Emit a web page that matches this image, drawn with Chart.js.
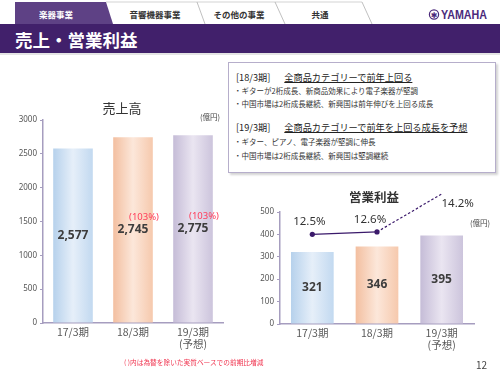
<!DOCTYPE html>
<html>
<head>
<meta charset="utf-8">
<script src="https://cdn.jsdelivr.net/npm/chart.js@4.4.1/dist/chart.umd.min.js"></script>
<style>
  body { margin: 0; width: 500px; height: 375px; background: #fff; position: relative; overflow: hidden;
         font-family: "Noto Sans CJK JP", sans-serif; color: #333; }
  .abs { position: absolute; white-space: nowrap; }
  #note { left: 228px; top: 62px; width: 266px; height: 109px; border: 1px solid #b6aecb;
          box-shadow: 2px 2px 2px #d4d4d4; }
  .hd { font-size: 9.2px; color: #222; }
  .hd u { text-decoration: underline; text-underline-offset: 1px; margin-left: 14px; }
  .bl { font-size: 7.5px; color: #333; }
  #foot { left: 124px; top: 357px; font-size: 6.7px; color: #f0344f; }
  #page { left: 476px; top: 357px; font-size: 10px; color: #444; }
</style>
</head>
<body>

<svg class="abs" style="left:0;top:0" width="500" height="58">
  <polygon points="15,2 106,2 113,24 15,24" fill="#5e4185"/>
  <line x1="106" y1="2" x2="362" y2="2" stroke="#c8c8c8" stroke-width="0.8"/>
  <line x1="197" y1="2" x2="205" y2="24" stroke="#b0b0b0" stroke-width="0.8"/>
  <line x1="275" y1="2" x2="285" y2="24" stroke="#b0b0b0" stroke-width="0.8"/>
  <line x1="362" y1="2" x2="372" y2="24" stroke="#b0b0b0" stroke-width="0.8"/>
  <g font-family="Noto Sans CJK JP" font-size="8.5" font-weight="bold" text-anchor="middle">
    <text x="56" y="18" fill="#fff">楽器事業</text>
    <text x="155" y="18" fill="#333">音響機器事業</text>
    <text x="239" y="18" fill="#333">その他の事業</text>
    <text x="320" y="18" fill="#333">共通</text>
  </g>
  <circle cx="434" cy="14.5" r="4.6" fill="none" stroke="#4b2a7b" stroke-width="1.2"/>
  <text x="434" y="17.5" font-size="8" font-weight="bold" fill="#4b2a7b" text-anchor="middle" font-family="DejaVu Sans">✱</text>
  <text x="441" y="19" font-size="12" font-weight="bold" fill="#4b2a7b" font-family="Liberation Sans Narrow, Liberation Sans"
        textLength="46" lengthAdjust="spacingAndGlyphs">YAMAHA</text>
  <rect x="0" y="24" width="500" height="29" fill="#41206b"/>
  <rect x="0" y="53" width="500" height="2" fill="#e4e4e4"/>
  <text x="15" y="47" font-size="17.5" font-weight="bold" fill="#fff" font-family="Noto Sans CJK JP">売上・営業利益</text>
</svg>

<div id="note" class="abs"></div>
<div class="abs hd" style="left:236px;top:70px">[18/3期]<u>全商品カテゴリーで前年上回る</u></div>
<div class="abs bl" style="left:234px;top:85px">・ギターが2桁成長、新商品効果により電子楽器が堅調</div>
<div class="abs bl" style="left:234px;top:98px">・中国市場は2桁成長継続、新興国は前年伸びを上回る成長</div>
<div class="abs hd" style="left:236px;top:120px">[19/3期]<u>全商品カテゴリーで前年を上回る成長を予想</u></div>
<div class="abs bl" style="left:234px;top:136px">・ギター、ピアノ、電子楽器が堅調に伸長</div>
<div class="abs bl" style="left:234px;top:150px">・中国市場は2桁成長継続、新興国は堅調継続</div>

<canvas id="salesChart" class="abs" style="left:0;top:95px" width="230" height="265"></canvas>
<canvas id="profitChart" class="abs" style="left:240px;top:180px" width="255" height="180"></canvas>

<div id="foot" class="abs">( )内は為替を除いた実質ベースでの前期比増減</div>
<div id="page" class="abs">12</div>

<script>
// data
const periods = ['17/3期', '18/3期', ['19/3期', '(予想)']];
const sales = [2577, 2745, 2775];          // 売上高 (億円)
const salesRealGrowth = [null, 103, 103];  // 為替を除いた実質ベースの前期比 (%)
const opProfit = [321, 346, 395];          // 営業利益 (億円)
const opMargin = [12.5, 12.6, 14.2];       // 営業利益率 (%)

const axisColor = '#a69dbf';
const valueFont = 'bold 12px "Noto Sans", sans-serif';

// bar gradients: left edge, middle, right edge
const barColors = [
  ['#b6d1ec', '#e6eff9', '#c2d9f0'],
  ['#f3bfa0', '#fce7da', '#f6c9ad'],
  ['#c5bcd7', '#eae5f1', '#ccc4dc']
];

function barFill(c) {
  const chart = c.chart;
  const x = chart.scales && chart.scales.x;
  const cols = barColors[c.dataIndex] || barColors[0];
  if (!x || c.dataIndex === undefined) return cols[1];
  const mid = x.getPixelForValue(c.dataIndex);
  const half = (x.width / 3) * 0.66 / 2;
  if (!isFinite(mid) || !isFinite(half) || half <= 0) return cols[1];
  const g = chart.ctx.createLinearGradient(mid - half, 0, mid + half, 0);
  g.addColorStop(0, cols[0]);
  g.addColorStop(0.5, cols[1]);
  g.addColorStop(1, cols[2]);
  return g;
}

function yAxis(max, step, width) {
  return {
    min: 0, max: max,
    ticks: { stepSize: step, color: '#555', font: { size: 8, family: '"Noto Sans", sans-serif' }, padding: 3,
             callback: v => String(v) },
    grid: { drawOnChartArea: false, drawTicks: true, tickLength: 3, color: axisColor },
    border: { color: axisColor, width: 1.5 },
    afterFit(s) { s.width = width; }
  };
}

function xAxis(height) {
  return {
    ticks: { color: '#595959', font: { size: 10.5, family: '"Noto Sans CJK JP"', lineHeight: 1.05 }, padding: 4 },
    grid: { display: false, drawTicks: false },
    border: { color: axisColor, width: 1.5 },
    afterFit(s) { s.height = height; }
  };
}

function drawValues(chart) {
  const ctx = chart.ctx;
  const meta = chart.getDatasetMeta(0);
  ctx.save();
  ctx.font = valueFont;
  ctx.fillStyle = '#3d3d3d';
  ctx.textAlign = 'center';
  ctx.textBaseline = 'middle';
  meta.data.forEach((bar, i) => {
    const v = chart.data.datasets[0].data[i];
    ctx.fillText(v.toLocaleString('en-US'), bar.x, (bar.y + bar.base) / 2);
  });
  ctx.restore();
}

const salesPlugin = {
  id: 'salesLabels',
  afterDatasetsDraw(chart) {
    const ctx = chart.ctx;
    drawValues(chart);
    const meta = chart.getDatasetMeta(0);
    ctx.save();
    ctx.textAlign = 'center';
    ctx.textBaseline = 'middle';
    ctx.font = '9.5px "Noto Sans", sans-serif';
    ctx.fillStyle = '#ff3d5a';
    meta.data.forEach((bar, i) => {
      if (salesRealGrowth[i] == null) return;
      ctx.fillText('(' + salesRealGrowth[i] + '%)', bar.x + 11, (bar.y + bar.base) / 2 - 13);
    });
    ctx.font = '13px "Noto Sans CJK JP"';
    ctx.fillStyle = '#333';
    ctx.fillText('売上高', 122, 13);
    ctx.font = '7.5px "Noto Sans CJK JP"';
    ctx.fillStyle = '#444';
    ctx.fillText('(億円)', 210, 22);
    ctx.restore();
  }
};

const profitPlugin = {
  id: 'profitLabels',
  afterDatasetsDraw(chart) {
    const ctx = chart.ctx;
    drawValues(chart);
    const pts = chart.getDatasetMeta(1).data;
    const offs = [[-3, -13], [-7, -12], [16, 10]];
    ctx.save();
    ctx.textAlign = 'center';
    ctx.textBaseline = 'middle';
    ctx.font = '11.5px "Noto Sans", sans-serif';
    ctx.fillStyle = '#333';
    pts.forEach((p, i) => {
      ctx.fillText(opMargin[i].toFixed(1) + '%', p.x + offs[i][0], p.y + offs[i][1]);
    });
    ctx.font = 'bold 12.5px "Noto Sans CJK JP"';
    ctx.fillText('営業利益', 134, 17);
    ctx.font = '7.5px "Noto Sans CJK JP"';
    ctx.fillStyle = '#444';
    ctx.fillText('(億円)', 240, 43);
    ctx.restore();
  }
};

new Chart(document.getElementById('salesChart'), {
  type: 'bar',
  data: {
    labels: periods,
    datasets: [{ data: sales, backgroundColor: barFill, barPercentage: 0.66, categoryPercentage: 1 }]
  },
  options: {
    responsive: false,
    animation: false,
    layout: { padding: { top: 25, right: 7, left: 0, bottom: 0 } },
    plugins: { legend: { display: false }, tooltip: { enabled: false } },
    scales: { x: xAxis(37), y: yAxis(3000, 500, 43) }
  },
  plugins: [salesPlugin]
});

new Chart(document.getElementById('profitChart'), {
  type: 'bar',
  data: {
    labels: periods,
    datasets: [
      { data: opProfit, backgroundColor: barFill, barPercentage: 0.66, categoryPercentage: 1, order: 1 },
      {
        type: 'line', data: opMargin, yAxisID: 'y1', order: 0, clip: false,
        borderColor: '#3b1a6b', borderWidth: 1.2,
        pointRadius: 2.6, pointBackgroundColor: '#3b1a6b', pointBorderWidth: 0,
        segment: { borderDash: c => c.p1DataIndex === 2 ? [2.5, 2] : undefined }
      }
    ]
  },
  options: {
    responsive: false,
    animation: false,
    layout: { padding: { top: 32, right: 21, left: 0, bottom: 0 } },
    plugins: { legend: { display: false }, tooltip: { enabled: false } },
    scales: {
      x: xAxis(36),
      y: yAxis(500, 100, 40),
      y1: { display: false, min: 8.72, max: 13.44 }
    }
  },
  plugins: [profitPlugin]
});
</script>
</body>
</html>
